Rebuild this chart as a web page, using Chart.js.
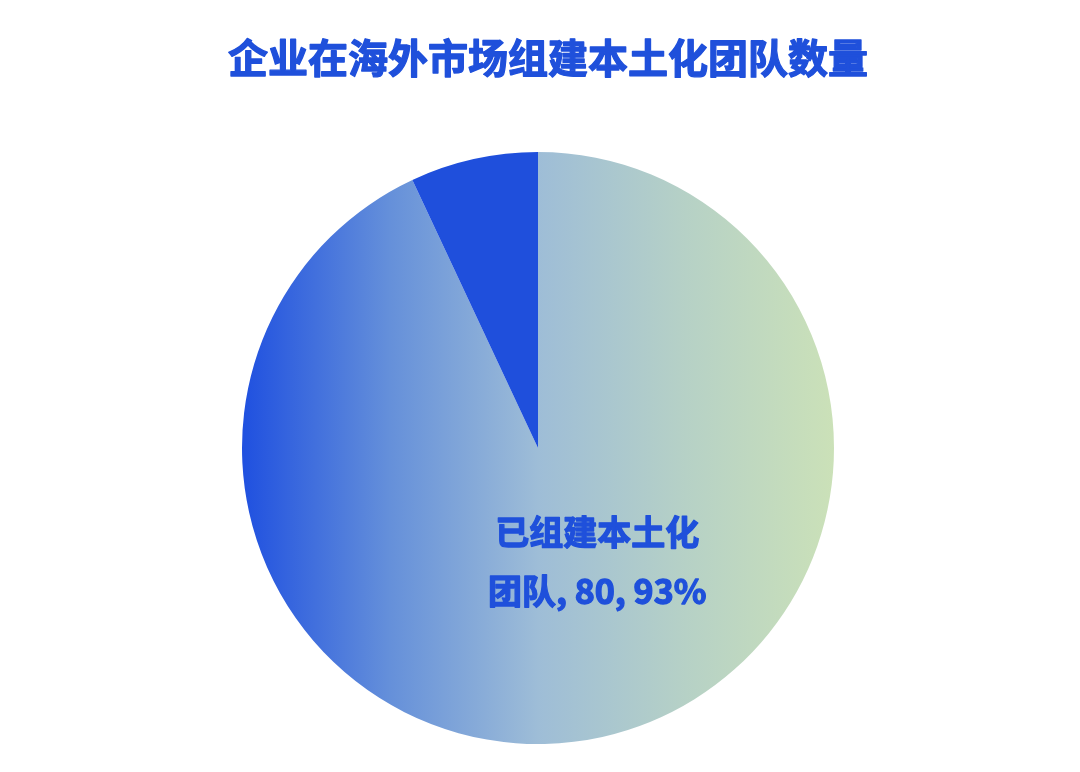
<!DOCTYPE html>
<html>
<head>
<meta charset="utf-8">
<script src="https://cdn.jsdelivr.net/npm/chart.js@4"></script>
<style>
    html, body { margin: 0; padding: 0; background: #fff; }
    #wrap { width: 1080px; height: 772px; position: relative; }
</style>
</head>
<body>
<div id="wrap"><canvas id="teamPie"></canvas></div>
<script>
    // chart data
    const chartTitle = '企业在海外市场组建本土化团队数量';
    const categories = ['已组建本土化团队', '未组建本土化团队'];
    const counts = [80, 6];
    const percents = ['93%', '7%'];

    const textBlue = '#1f50db';
    const fontFamily = '"Noto Sans CJK SC", "Noto Sans", sans-serif';

    // horizontal blue -> green gradient across the pie
    function pieGradient(context) {
        const chart = context.chart;
        const area = chart.chartArea;
        if (!area) return '#9ebdd7';
        const cx = (area.left + area.right) / 2;
        const r = Math.min(area.right - area.left, area.bottom - area.top) / 2;
        const g = chart.ctx.createLinearGradient(cx - r, 0, cx + r, 0);
        g.addColorStop(0, '#1f50e0');
        g.addColorStop(0.25, '#6590da');
        g.addColorStop(0.5, '#9ebdd7');
        g.addColorStop(0.75, '#b6d1c6');
        g.addColorStop(1, '#cbe1b8');
        return g;
    }

    // heavy text: fill plus a thin stroke of the same colour
    function heavyText(ctx, text, x, y) {
        ctx.fillText(text, x, y);
        ctx.strokeText(text, x, y);
    }

    // title + slice label
    const textPlugin = {
        id: 'textPlugin',
        afterDraw(chart) {
            const ctx = chart.ctx;
            ctx.save();
            ctx.fillStyle = textBlue;
            ctx.strokeStyle = textBlue;
            ctx.lineWidth = 1.3;
            ctx.lineJoin = 'round';
            ctx.textAlign = 'center';
            ctx.textBaseline = 'middle';
            ctx.font = 'bold 40px ' + fontFamily;
            heavyText(ctx, chartTitle, 548, 58);

            const arc = chart.getDatasetMeta(0).data[0];
            const r = arc.outerRadius;
            ctx.font = 'bold 34px ' + fontFamily;
            heavyText(ctx, '已组建本土化', arc.x + 0.2 * r, arc.y + 0.285 * r);
            heavyText(ctx, '团队, ' + counts[0] + ', ' + percents[0], arc.x + 0.2 * r, arc.y + 0.485 * r);
            ctx.restore();
        }
    };

    let ctx = document.getElementById('teamPie').getContext('2d');
    let teamPie = new Chart(ctx, {
        type: 'pie',
        data: {
            labels: categories,
            datasets: [{
                data: counts,
                backgroundColor: (c) => c.dataIndex === 0 ? pieGradient(c) : '#1f4fdc',
                borderWidth: 0
            }]
        },
        options: {
            responsive: true,
            maintainAspectRatio: false,
            animation: false,
            layout: {
                padding: { top: 152, bottom: 28, left: 0, right: 4 }
            },
            plugins: {
                legend: { display: false },
                tooltip: { enabled: false }
            }
        },
        plugins: [textPlugin]
    });
</script>
</body>
</html>
